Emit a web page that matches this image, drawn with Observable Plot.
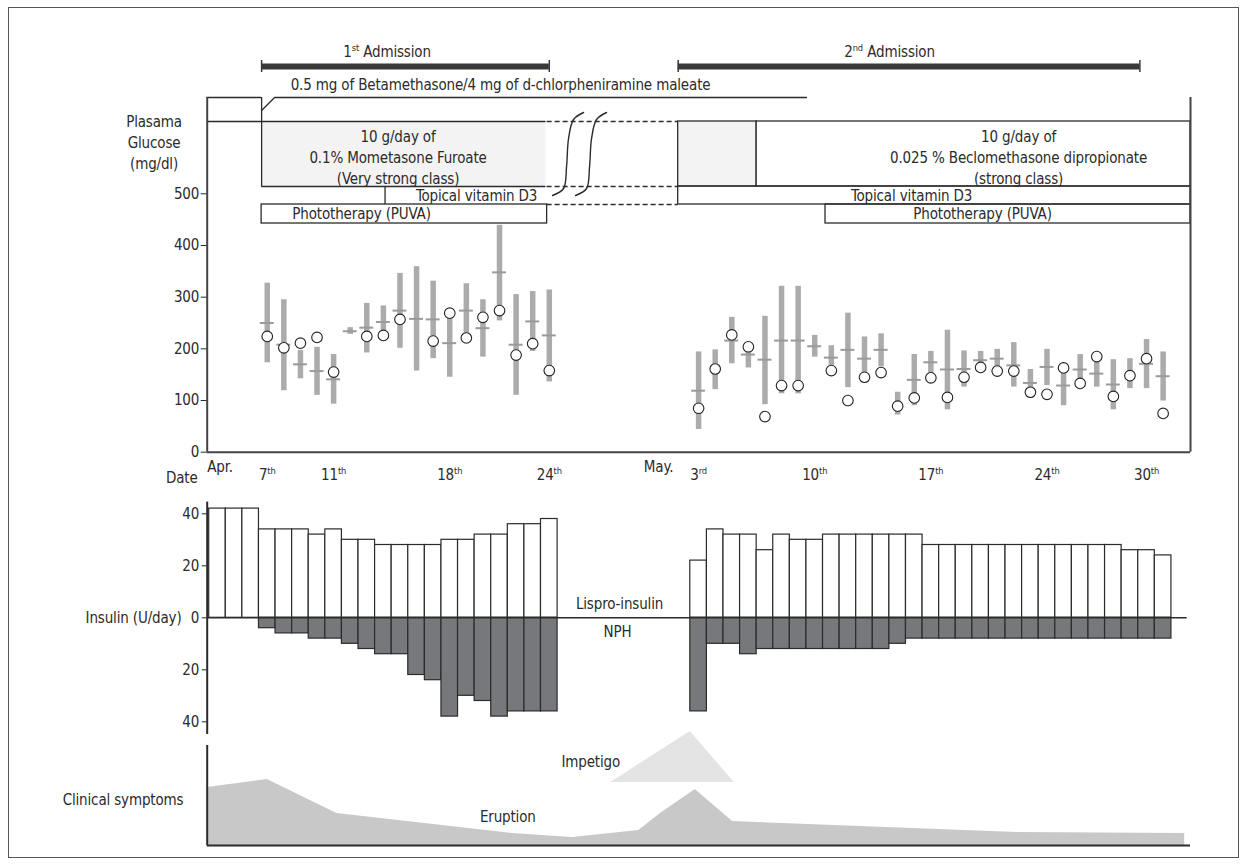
<!DOCTYPE html>
<html>
<head>
<meta charset="utf-8">
<script src="https://cdn.jsdelivr.net/npm/d3@7"></script>
<script src="https://cdn.jsdelivr.net/npm/@observablehq/plot@0.6"></script>
<style>
  html, body { margin: 0; padding: 0; background: #fff; }
  #wrap { position: relative; width: 1247px; height: 865px; overflow: hidden; background: #fff; }
  #border { position: absolute; left: 8px; top: 7px; width: 1231px; height: 851px; border: 1px solid #555; box-sizing: border-box; }
  .panel { position: absolute; left: 0; }
  .panel svg { overflow: visible; }
</style>
</head>
<body>
<div id="wrap"><div id="border"></div></div>
<script>
// ================= DATA =================
// Day numbering: April 1 = 1 ... April 30 = 30, May 1 = 31 ... May 31 = 61
const glucoseDays = [7,8,9,10,11,12,13,14,15,16,17,18,19,20,21,22,23,24,
  33,34,35,36,37,38,39,40,41,42,43,44,45,46,47,48,49,50,51,52,53,54,55,56,57,58,59,60,61];
const glucoseLow = [173,119,142,110,93,228,192,230,201,157,181,145,218,184,254,110,195,136,
  44,121,171,163,92,113,113,184,168,125,136,165,72,90,136,82,126,165,158,126,108,129,90,126,126,82,123,123,99];
const glucoseHigh = [327,295,197,203,189,241,288,283,346,359,331,269,326,295,439,305,311,314,
  194,198,261,203,263,321,321,226,206,269,223,229,116,189,195,236,196,195,199,212,160,199,168,189,185,179,181,218,194];
const glucoseMedian = [250,208,170,157,141,234,241,252,274,258,257,211,274,240,348,208,253,226,
  119,null,216,189,179,216,216,205,183,198,181,198,null,140,174,160,161,178,181,168,134,165,129,160,152,131,null,171,147];
const glucoseFasting = [224,202,211,222,155,null,224,226,257,null,215,269,221,261,274,188,210,158,
  85,161,227,204,69,129,129,null,158,100,145,154,89,105,144,106,145,164,157,157,116,112,163,133,185,108,148,181,75];

const insulinDays = [4,5,6,7,8,9,10,11,12,13,14,15,16,17,18,19,20,21,22,23,24,
  33,34,35,36,37,38,39,40,41,42,43,44,45,46,47,48,49,50,51,52,53,54,55,56,57,58,59,60,61];
const lispro = [42,42,42,34,34,34,32,34,30,30,28,28,28,28,30,30,32,32,36,36,38,
  22,34,32,32,26,32,30,30,32,32,32,32,32,32,28,28,28,28,28,28,28,28,28,28,28,28,26,26,24];
const nph = [0,0,0,4,6,6,8,8,10,12,14,14,22,24,38,30,32,38,36,36,36,
  36,10,10,14,12,12,12,12,12,12,12,12,10,8,8,8,8,8,8,8,8,8,8,8,8,8,8,8,8];

const eruptionDays  = [3.38, 7.0, 11.2, 21.8, 25.4, 29.4, 30.7, 32.8, 35.05, 52.2, 62.3];
const eruptionLevel = [5.8, 6.6, 3.2, 1.2, 0.8, 1.5, 3.2, 5.6, 2.4, 1.3, 1.2];
const impetigoDays  = [27.7, 32.5, 35.15];
const impetigoLevel = [6.3, 11.4, 6.3];

const admissionLabels = ["1^st Admission", "2^nd Admission"];
const admissionStart  = [6.66, 31.77];
const admissionEnd    = [24.0, 59.6];

const dateTickDays   = [7, 11, 18, 24, 33, 40, 47, 54, 60];
const dateTickLabels = ["7^th", "11^th", "18^th", "24^th", "3^rd", "10^th", "17^th", "24^th", "30^th"];
const monthLabels = ["Apr.", "May."];
const monthDays   = [3.38, 29.7];

// treatment periods (days)
const betaFull = [3.38, 6.66];       // pre-admission full dose
const betaTaperEnd = 39.5;
const mometasone = [6.66, 23.8];
const steroidPre2 = [31.77, 36.5];
const beclomethasone = [36.5, 62.65];
const vitD3 = [[14.1, 23.8], [31.77, 62.65]];
const puva = [[6.66, 23.87], [40.65, 62.65]];

// ================= LAYOUT =================
const X0 = 3.38, X1 = 62.65;
const W = 1247, ML = 206.7, MR = W - 1190;
const INK = "#2b2b2b";
const FS = 15;
const F = "'Liberation Sans Narrow','DejaVu Sans Condensed','Arial Narrow','Roboto Condensed',sans-serif";
const xd = px => 7 + (px - 266.7) / 16.59;     // layout helper: page px -> day
const gY = px => (451.7 - px) / 0.5168;        // layout helper: page px -> glucose units
const ROW = {adm: gY(66), admT: gY(60), admB: gY(72), top: gY(97), beta: gY(110),
             r1: gY(121), r2: gY(186), r3: gY(204), r4: gY(223)};

const glu = glucoseDays.map((d, i) => ({day: d, lo: glucoseLow[i], hi: glucoseHigh[i], med: glucoseMedian[i], pt: glucoseFasting[i]}));
const ins = insulinDays.map((d, i) => ({day: d, lispro: lispro[i], nph: nph[i]}));
const adm = admissionLabels.map((l, i) => ({label: l, start: admissionStart[i], end: admissionEnd[i]}));

function supify(svg) {
  svg.querySelectorAll("text").forEach(t => {
    if (t.querySelector("tspan")) return;
    const s = t.textContent;
    if (!s.includes("^")) return;
    const fs = parseFloat(getComputedStyle(t).fontSize) || 16;
    const parts = s.split(/\^([a-z]+)/);
    t.textContent = "";
    let up = false;
    parts.forEach((p, i) => {
      if (!p) return;
      const ts = document.createElementNS("http://www.w3.org/2000/svg", "tspan");
      ts.textContent = p;
      if (i % 2 === 1) { ts.setAttribute("font-size", (fs * 0.62).toFixed(1)); ts.setAttribute("dy", (-fs * 0.42).toFixed(1)); up = true; }
      else if (up) { ts.setAttribute("dy", (fs * 0.42).toFixed(1)); up = false; }
      t.appendChild(ts);
    });
  });
}

function place(plot, top) {
  const d = document.createElement("div");
  d.className = "panel";
  d.style.top = top + "px";
  d.appendChild(plot);
  document.getElementById("wrap").appendChild(d);
  supify(plot);
}

const seg = (y, a, b) => ({y, a, b});
const vseg = (x, a, b) => ({x, a, b});
const baseStyle = {fontFamily: F, fontSize: FS + "px", letterSpacing: "-0.15px", color: INK, background: "transparent", overflow: "visible"};

// ================= PANEL 1: glucose + treatments =================
const hLines = [
  seg(ROW.r1, X0, mometasone[1]),
  seg(ROW.r2, mometasone[0], mometasone[1]),
  seg(ROW.top, betaFull[0], betaFull[1])
];
const vLines = [
  vseg(betaFull[1], ROW.r1, ROW.top),
  vseg(mometasone[0], ROW.r2, ROW.r1),
  vseg(vitD3[0][0], ROW.r3, ROW.r2)
];
const dashed = [ROW.r1, ROW.r2, ROW.r3].map(y => seg(y, puva[0][1], steroidPre2[0]));
const taper = [
  {x: betaFull[1], y: ROW.beta},
  {x: betaFull[1] + 0.78, y: ROW.top},
  {x: betaTaperEnd, y: ROW.top}
];
// break marks (two integral-like strokes)
const sShape = [[16,-42],[6,-35],[1,-16],[-1,12],[-4,34],[-15,41]];
const breaks = [567, 590].flatMap((cx, k) => sShape.map(([dx, dy]) => ({k, x: xd(cx + dx), y: gY(154 + dy)})));

const p1 = Plot.plot({
  width: W, height: 490,
  marginLeft: ML, marginRight: MR, marginTop: 0, marginBottom: 490 - 451.7,
  style: baseStyle,
  x: {domain: [X0, X1], axis: null},
  y: {domain: [0, 451.7 / 0.5168], ticks: [0, 100, 200, 300, 400, 500], tickSize: 6, tickPadding: 2, label: null},
  marks: [
    // steroid boxes
    Plot.rect([mometasone], {x1: d => d[0], x2: d => d[1], y1: ROW.r2, y2: ROW.r1, fill: "#f3f3f3"}),
    Plot.rect([steroidPre2], {x1: d => d[0], x2: d => d[1], y1: ROW.r2, y2: ROW.r1, fill: "#f3f3f3", stroke: INK, strokeWidth: 1.3}),
    Plot.rect([beclomethasone], {x1: d => d[0], x2: d => d[1], y1: ROW.r2, y2: ROW.r1, fill: "white", stroke: INK, strokeWidth: 1.3}),
    Plot.rect([vitD3[1]], {x1: d => d[0], x2: d => d[1], y1: ROW.r3, y2: ROW.r2, fill: "none", stroke: INK, strokeWidth: 1.3}),
    Plot.rect(puva, {x1: d => d[0], x2: d => d[1], y1: ROW.r4, y2: ROW.r3, fill: "none", stroke: INK, strokeWidth: 1.3}),
    Plot.ruleY(hLines, {y: "y", x1: "a", x2: "b", stroke: INK, strokeWidth: 1.3}),
    Plot.ruleX(vLines, {x: "x", y1: "a", y2: "b", stroke: INK, strokeWidth: 1.3}),
    Plot.ruleY(dashed, {y: "y", x1: "a", x2: "b", stroke: INK, strokeWidth: 1.3, strokeDasharray: "5,3"}),
    Plot.line(taper, {x: "x", y: "y", stroke: INK, strokeWidth: 1.3}),
    Plot.line(breaks, {x: "x", y: "y", z: "k", stroke: INK, strokeWidth: 1.4, curve: "catmull-rom"}),
    // admissions
    Plot.ruleY(adm, {y: ROW.adm, x1: "start", x2: "end", stroke: "#3a3a3a", strokeWidth: 6}),
    Plot.ruleX(adm.flatMap(a => [a.start, a.end]), {x: d => d, y1: ROW.admB, y2: ROW.admT, stroke: "#3a3a3a", strokeWidth: 1.5}),
    Plot.text(adm, {x: (d, i) => [xd(386.5), xd(889)][i], y: gY(52), text: "label", fontSize: FS}),
    // treatment labels
    Plot.text(["0.5 mg of Betamethasone/4 mg of d-chlorpheniramine maleate"], {x: xd(500), y: gY(85), text: d => d, fontSize: FS}),
    Plot.text(["10 g/day of\n0.1% Mometasone Furoate\n(Very strong class)"], {x: xd(397.5), y: gY(155.5), text: d => d, fontSize: FS, lineHeight: 1.4}),
    Plot.text(["10 g/day of\n0.025 % Beclomethasone dipropionate\n(strong class)"], {x: xd(1018), y: gY(155.5), text: d => d, fontSize: FS, lineHeight: 1.4}),
    Plot.text(vitD3, {x: (d, i) => [xd(476), xd(911)][i], y: gY(196), text: () => "Topical vitamin D3", fontSize: FS}),
    Plot.text(puva, {x: (d, i) => [xd(361), xd(982)][i], y: gY(214), text: () => "Phototherapy (PUVA)", fontSize: FS}),
    // frame of glucose panel
    Plot.ruleX([X0, X1], {y1: 0, y2: ROW.top, stroke: "#444", strokeWidth: 2}),
    Plot.ruleY([0], {x1: X0, x2: X1, stroke: "#444", strokeWidth: 2}),
    // glucose data
    Plot.ruleX(glu, {x: "day", y1: "lo", y2: "hi", stroke: "#ababab", strokeWidth: 5.5}),
    Plot.ruleY(glu.filter(d => d.med != null), {y: "med", x1: d => d.day - 0.42, x2: d => d.day + 0.42, stroke: "#9a9a9a", strokeWidth: 2}),
    Plot.dot(glu.filter(d => d.pt != null), {x: "day", y: "pt", r: 5.3, fill: "white", stroke: "#222", strokeWidth: 1.1}),
    // axis annotations
    Plot.text(["Plasama\nGlucose\n(mg/dl)"], {x: xd(153.5), y: gY(141), text: d => d, fontSize: FS, lineHeight: 1.4}),
    Plot.text(dateTickDays, {x: d => d, y: gY(474.5), text: (d, i) => dateTickLabels[i], fontSize: FS}),
    Plot.text(monthDays, {x: d => d, y: gY(466.5), text: (d, i) => monthLabels[i], textAnchor: "start", fontSize: FS}),
    Plot.text(["Date"], {x: xd(197), y: gY(477.5), text: d => d, textAnchor: "end", fontSize: FS})
  ]
});
place(p1, 0);

// ================= PANEL 2: insulin =================
const H2 = 265, IY0 = 137.3, IPX = 2.6;
const p2 = Plot.plot({
  width: W, height: H2,
  marginLeft: ML, marginRight: MR, marginTop: 0, marginBottom: 0,
  style: baseStyle,
  x: {domain: [X0, X1], axis: null},
  y: {domain: [(IY0 - H2) / IPX, IY0 / IPX], ticks: [-40, -20, 0, 20, 40], tickFormat: d => Math.abs(d), tickSize: 5, tickPadding: 3, label: null},
  marks: [
    Plot.rect(ins, {x1: d => d.day - 0.5, x2: d => d.day + 0.5, y1: () => 0, y2: "lispro", fill: "white", stroke: INK, strokeWidth: 1.2}),
    Plot.rect(ins.filter(d => d.nph > 0), {x1: d => d.day - 0.5, x2: d => d.day + 0.5, y1: () => 0, y2: d => -d.nph, fill: "#77787b", stroke: INK, strokeWidth: 1.2}),
    Plot.ruleY([0], {x1: X0, x2: 62.45, stroke: INK, strokeWidth: 1.6}),
    Plot.ruleX([X0], {y1: -44.9, y2: 44.5, stroke: INK, strokeWidth: 2}),
    Plot.text(["Lispro-insulin"], {x: xd(619), y: 5.3, text: d => d, fontSize: FS}),
    Plot.text(["NPH"], {x: xd(617), y: -5.4, text: d => d, fontSize: FS}),
    Plot.text(["Insulin (U/day)"], {x: xd(181), y: 0, text: d => d, textAnchor: "end", fontSize: FS})
  ]
});
place(p2, 480);

// ================= PANEL 3: clinical symptoms =================
const eru = eruptionDays.map((d, i) => ({day: d, base: 0, level: eruptionLevel[i]}));
const imp = impetigoDays.map((d, i) => ({day: d, base: impetigoLevel[0], level: impetigoLevel[i]}));
const p3 = Plot.plot({
  width: W, height: 145,
  marginLeft: ML, marginRight: MR, marginTop: 0, marginBottom: 0,
  style: baseStyle,
  x: {domain: [X0, X1], axis: null},
  y: {domain: [-2, 12.5], axis: null},
  marks: [
    Plot.areaY(imp, {x: "day", y1: "base", y2: "level", fill: "#e4e4e4"}),
    Plot.areaY(eru, {x: "day", y1: "base", y2: "level", fill: "#c8c8c8"}),
    Plot.ruleX([X0], {y1: 0, y2: 10, stroke: INK, strokeWidth: 2}),
    Plot.ruleY([0], {x1: X0, x2: X1, stroke: INK, strokeWidth: 2}),
    Plot.text(["Impetigo"], {x: 26.5, y: 8.3, text: d => d, fontSize: FS}),
    Plot.text(["Eruption"], {x: 21.5, y: 2.85, text: d => d, fontSize: FS}),
    Plot.text(["Clinical symptoms"], {x: xd(122.5), y: 4.5, text: d => d, fontSize: FS})
  ]
});
place(p3, 720);
</script>
</body>
</html>
